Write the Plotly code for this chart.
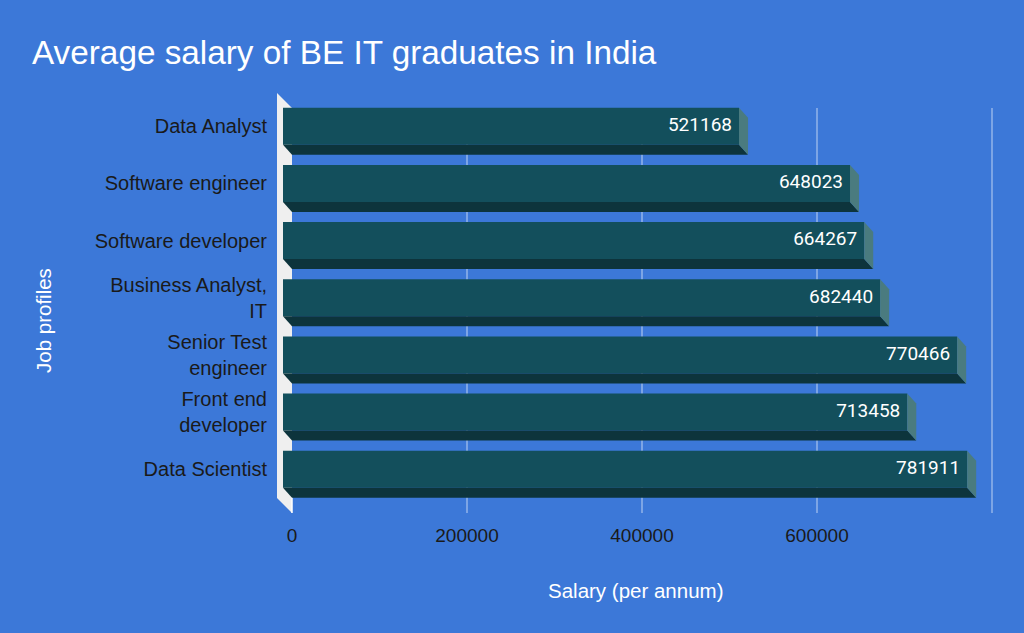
import plotly.graph_objects as go

# data
jobs = ['Data Analyst', 'Software engineer', 'Software developer',
        'Business Analyst,<br>IT', 'Senior Test<br>engineer',
        'Front end<br>developer', 'Data Scientist']
salaries = [521168, 648023, 664267, 682440, 770466, 713458, 781911]
x_ticks = [0, 200000, 400000, 600000]
grid_vals = [200000, 400000, 600000, 800000]

W, H = 1024, 633
L, R, T, B = 272, 1010, 85, 522          # plot area in px
PX_PER_UNIT = 0.000875                    # px per salary unit
BACK_ZERO, FRONT_ZERO = 292, 283          # x px of 0 on back / front plane
ROW0, ROW_STEP = 126.3, 57.15             # y px of first row centre, row step
DX = (BACK_ZERO - FRONT_ZERO) / PX_PER_UNIT   # depth in salary units
DY = 10 / ROW_STEP                            # depth in row units
HALF = 37 / ROW_STEP / 2                      # half bar thickness
TEXT_PAD = 7 / PX_PER_UNIT

BAR = '#134f5c'
BOTTOM = '#0d343c'
SIDE = '#4a7b7f'
BG = '#3c78d8'

def row(px):
    return (px - ROW0) / ROW_STEP

pos = list(range(len(jobs)))

fig = go.Figure()

# front faces
fig.add_trace(go.Bar(
    x=salaries, y=pos, orientation='h', xaxis='x2',
    width=2 * HALF, marker=dict(color=BAR, line=dict(width=0)),
    hoverinfo='skip', showlegend=False))

# bottom and side faces of the 3d bars
for i, v in zip(pos, salaries):
    fig.add_trace(go.Scatter(
        x=[0, v, v + DX, DX, 0],
        y=[i + HALF, i + HALF, i + HALF + DY, i + HALF + DY, i + HALF],
        fill='toself', fillcolor=BOTTOM, mode='lines', line=dict(width=0),
        xaxis='x2', hoverinfo='skip', showlegend=False))
    fig.add_trace(go.Scatter(
        x=[v, v + DX, v + DX, v, v],
        y=[i - HALF, i - HALF + DY, i + HALF + DY, i + HALF, i - HALF],
        fill='toself', fillcolor=SIDE, mode='lines', line=dict(width=0),
        xaxis='x2', hoverinfo='skip', showlegend=False))

# value labels
fig.add_trace(go.Scatter(
    x=[v - TEXT_PAD for v in salaries], y=pos, mode='text',
    text=[str(v) for v in salaries], textposition='middle left',
    textfont=dict(family='Roboto', size=19, color='white'),
    xaxis='x2', hoverinfo='skip', showlegend=False, cliponaxis=False))

shapes = []
# gridlines on back plane
for g in grid_vals:
    shapes.append(dict(type='line', xref='x', yref='y', x0=g, x1=g,
                       y0=row(108), y1=row(513),
                       line=dict(color='rgba(255,255,255,0.45)', width=1.5),
                       layer='below'))
# left wall
wx0 = (277 - FRONT_ZERO) / PX_PER_UNIT
shapes.append(dict(type='path', xref='x2', yref='y', layer='below',
                   path=f'M {wx0},{row(93)} L {wx0},{row(498)} L {DX},{row(513)} L {DX},{row(108)} Z',
                   fillcolor='#efefef', line=dict(width=0)))
shapes.append(dict(type='line', xref='x', yref='y', x0=0, x1=0,
                   y0=row(497), y1=row(513), layer='below',
                   line=dict(color='white', width=1.5)))

def px_x(px):
    return (px - L) / (R - L)

def px_y(px):
    return (B - px) / (B - T)

fig.update_layout(
    width=W, height=H,
    paper_bgcolor=BG, plot_bgcolor=BG,
    margin=dict(l=L, r=W - R, t=T, b=H - B),
    title=dict(text='Average salary of BE IT graduates in India',
               x=32 / W, xanchor='left', xref='container',
               y=1 - 52 / H, yanchor='middle', yref='container',
               font=dict(family='Liberation Sans', size=33.3, color='white')),
    xaxis=dict(range=[(L - BACK_ZERO) / PX_PER_UNIT, (R - BACK_ZERO) / PX_PER_UNIT],
               tickvals=x_ticks, ticktext=[str(t) for t in x_ticks],
               showgrid=False, zeroline=False, showline=False,
               tickfont=dict(family='Liberation Sans', size=19, color='#1a1a1a')),
    xaxis2=dict(range=[(L - FRONT_ZERO) / PX_PER_UNIT, (R - FRONT_ZERO) / PX_PER_UNIT],
                overlaying='x', visible=False),
    yaxis=dict(range=[row(B), row(T)], tickvals=pos, ticktext=jobs,
               showgrid=False, zeroline=False, showline=False,
               ticklabelstandoff=4,
               tickfont=dict(family='Liberation Sans', size=20, color='#1a1a1a')),
    shapes=shapes,
    annotations=[
        dict(text='Job profiles', xref='paper', yref='paper',
             x=px_x(43), y=px_y(320), textangle=-90, showarrow=False,
             xanchor='center', yanchor='middle',
             font=dict(family='Liberation Sans', size=20.5, color='white')),
        dict(text='Salary (per annum)', xref='paper', yref='paper',
             x=px_x(635), y=px_y(590), showarrow=False,
             xanchor='center', yanchor='middle',
             font=dict(family='Liberation Sans', size=20.5, color='white')),
    ],
)

fig.write_html('out.html', config={'displayModeBar': False},
               post_script="document.body.style.margin='0';")
